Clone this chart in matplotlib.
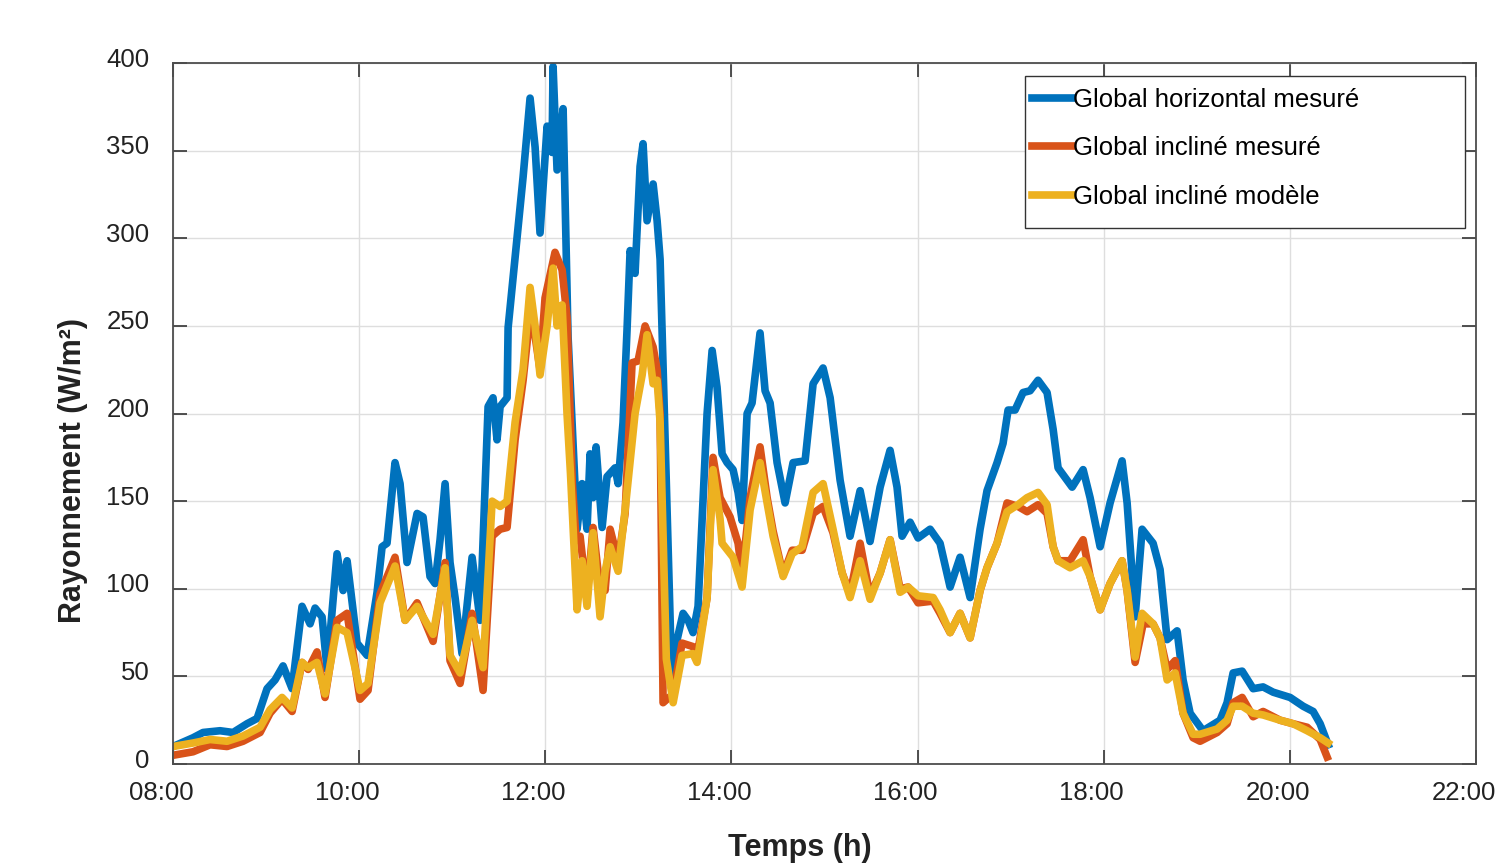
"""
Rayonnement global : horizontal mesuré, incliné mesuré et incliné modèle.
"""
import matplotlib
matplotlib.use('Agg')
import matplotlib.pyplot as plt
from matplotlib.patches import Rectangle
from matplotlib.transforms import ScaledTranslation

plt.rcParams['font.family'] = ['Liberation Sans', 'DejaVu Sans']

# Data (time in decimal hours, irradiance in W/m²)
t_horizontal = [8.0, 8.215, 8.322, 8.505, 8.645, 8.795, 8.903, 9.010, 9.096, 9.182,
                9.279, 9.386, 9.472, 9.526, 9.601, 9.655, 9.762, 9.827, 9.870, 9.977,
                10.085, 10.192, 10.246, 10.299, 10.385, 10.439, 10.514, 10.622, 10.686, 10.761,
                10.815, 10.869, 10.923, 10.976, 11.030, 11.105, 11.213, 11.299, 11.385, 11.438,
                11.481, 11.514, 11.589, 11.600, 11.675, 11.761, 11.836, 11.890, 11.943, 12.019,
                12.072, 12.083, 12.126, 12.191, 12.244, 12.341, 12.395, 12.448, 12.481, 12.513,
                12.545, 12.610, 12.663, 12.749, 12.782, 12.835, 12.878, 12.911, 12.964, 13.018,
                13.050, 13.093, 13.158, 13.201, 13.233, 13.362, 13.416, 13.480, 13.534, 13.587,
                13.641, 13.738, 13.792, 13.845, 13.899, 13.953, 14.017, 14.071, 14.114, 14.168,
                14.221, 14.307, 14.361, 14.415, 14.490, 14.576, 14.662, 14.791, 14.877, 14.984,
                15.060, 15.167, 15.274, 15.382, 15.489, 15.597, 15.704, 15.779, 15.833, 15.919,
                16.005, 16.134, 16.241, 16.349, 16.456, 16.564, 16.671, 16.746, 16.854, 16.918,
                16.972, 17.047, 17.133, 17.208, 17.294, 17.391, 17.456, 17.509, 17.660, 17.778,
                17.853, 17.961, 18.068, 18.197, 18.251, 18.337, 18.412, 18.530, 18.605, 18.681,
                18.788, 18.852, 18.928, 19.067, 19.250, 19.325, 19.390, 19.487, 19.605, 19.712,
                19.820, 20.002, 20.142, 20.250, 20.325, 20.411]
g_horizontal = [10, 15, 18, 19, 18, 23, 26, 43, 48, 56,
                43, 90, 80, 89, 84, 54, 120, 99, 116, 69,
                62, 98, 124, 126, 172, 160, 115, 143, 141, 107,
                103, 128, 160, 115, 95, 63, 118, 82, 204, 209,
                185, 204, 209, 249, 289, 335, 380, 352, 303, 364,
                349, 398, 339, 374, 244, 134, 160, 134, 177, 152,
                181, 135, 164, 169, 160, 195, 248, 293, 280, 341,
                354, 310, 331, 310, 288, 42, 71, 86, 82, 75,
                90, 200, 236, 215, 177, 172, 168, 155, 139, 200,
                206, 246, 213, 206, 172, 149, 172, 173, 217, 226,
                209, 162, 130, 156, 127, 158, 179, 158, 130, 138,
                129, 134, 126, 101, 118, 95, 134, 156, 172, 183,
                202, 202, 212, 213, 219, 212, 191, 169, 158, 168,
                152, 124, 149, 173, 149, 84, 134, 126, 111, 71,
                76, 48, 29, 19, 25, 35, 52, 53, 43, 44,
                41, 38, 33, 30, 23, 11]

t_incline = [8.0, 8.215, 8.398, 8.580, 8.752, 8.935, 9.042, 9.171, 9.279, 9.386,
             9.451, 9.547, 9.633, 9.762, 9.870, 10.009, 10.095, 10.224, 10.385, 10.493,
             10.622, 10.794, 10.923, 10.976, 11.084, 11.213, 11.331, 11.428, 11.514, 11.589,
             11.675, 11.761, 11.815, 11.868, 11.943, 11.997, 12.104, 12.180, 12.233, 12.290,
             12.330, 12.373, 12.448, 12.513, 12.588, 12.642, 12.696, 12.782, 12.857, 12.932,
             12.996, 13.072, 13.158, 13.201, 13.233, 13.265, 13.373, 13.469, 13.587, 13.630,
             13.738, 13.802, 13.877, 13.985, 14.071, 14.114, 14.200, 14.307, 14.383, 14.447,
             14.555, 14.652, 14.759, 14.877, 14.984, 15.091, 15.189, 15.274, 15.382, 15.489,
             15.597, 15.704, 15.812, 15.898, 16.005, 16.167, 16.241, 16.349, 16.456, 16.564,
             16.671, 16.746, 16.854, 16.961, 17.079, 17.176, 17.294, 17.391, 17.456, 17.509,
             17.638, 17.778, 17.853, 17.961, 18.068, 18.197, 18.251, 18.337, 18.423, 18.530,
             18.605, 18.681, 18.767, 18.852, 18.960, 19.035, 19.218, 19.325, 19.390, 19.487,
             19.605, 19.712, 19.895, 20.034, 20.185, 20.325, 20.400]
g_incline = [5, 7, 11, 10, 13, 18, 29, 37, 30, 58,
             54, 64, 38, 82, 86, 37, 42, 97, 118, 82,
             92, 70, 115, 59, 46, 86, 42, 130, 134, 135,
             185, 219, 246, 252, 225, 266, 292, 282, 255, 160,
             128, 130, 95, 135, 100, 99, 134, 116, 143, 229,
             230, 250, 238, 225, 200, 35, 40, 69, 67, 62,
             95, 175, 152, 141, 126, 108, 152, 181, 152, 133,
             108, 122, 122, 143, 147, 132, 109, 97, 126, 96,
             109, 128, 100, 101, 92, 93, 86, 75, 86, 72,
             99, 112, 126, 149, 147, 144, 148, 143, 124, 116,
             116, 128, 107, 88, 103, 116, 99, 58, 80, 80,
             72, 54, 59, 29, 15, 13, 18, 23, 35, 38,
             27, 30, 25, 23, 21, 14, 4]

t_modele = [8.0, 8.215, 8.398, 8.580, 8.752, 8.935, 9.042, 9.171, 9.279, 9.386,
            9.451, 9.547, 9.633, 9.762, 9.870, 10.009, 10.095, 10.224, 10.385, 10.493,
            10.622, 10.794, 10.923, 10.976, 11.084, 11.213, 11.331, 11.428, 11.514, 11.589,
            11.675, 11.761, 11.836, 11.890, 11.943, 12.019, 12.083, 12.126, 12.180, 12.233,
            12.270, 12.341, 12.395, 12.448, 12.513, 12.588, 12.642, 12.696, 12.782, 12.857,
            12.964, 13.040, 13.093, 13.158, 13.201, 13.233, 13.300, 13.373, 13.469, 13.587,
            13.630, 13.738, 13.802, 13.877, 13.899, 14.017, 14.114, 14.200, 14.307, 14.383,
            14.447, 14.555, 14.652, 14.759, 14.877, 14.984, 15.091, 15.189, 15.274, 15.382,
            15.489, 15.597, 15.704, 15.812, 15.898, 16.005, 16.167, 16.241, 16.349, 16.456,
            16.564, 16.671, 16.746, 16.854, 16.961, 17.079, 17.176, 17.294, 17.391, 17.456,
            17.509, 17.638, 17.778, 17.853, 17.961, 18.068, 18.197, 18.251, 18.337, 18.412,
            18.530, 18.605, 18.681, 18.767, 18.852, 18.960, 19.035, 19.218, 19.325, 19.390,
            19.487, 19.605, 19.712, 19.895, 20.034, 20.185, 20.325, 20.411]
g_modele = [10, 12, 14, 13, 16, 21, 31, 38, 32, 58,
            55, 58, 40, 78, 75, 42, 46, 92, 113, 82,
            90, 74, 112, 62, 52, 82, 55, 150, 147, 150,
            195, 225, 272, 250, 222, 250, 283, 250, 262, 200,
            166, 88, 116, 90, 132, 84, 110, 124, 110, 145,
            200, 222, 245, 217, 219, 195, 60, 35, 62, 63,
            58, 95, 168, 140, 126, 118, 101, 145, 172, 149,
            130, 107, 120, 124, 155, 160, 134, 109, 95, 116,
            94, 109, 128, 98, 101, 96, 95, 88, 75, 86,
            72, 99, 112, 126, 144, 148, 152, 155, 148, 124,
            116, 112, 116, 107, 88, 103, 116, 99, 61, 86,
            80, 72, 48, 52, 29, 17, 17, 20, 25, 33,
            33, 29, 28, 25, 23, 19, 15, 12]

series_labels = ['Global horizontal mesuré', 'Global incliné mesuré', 'Global incliné modèle']
x_ticks = [8, 10, 12, 14, 16, 18, 20, 22]
x_tick_labels = [f'{h:02d}:00' for h in x_ticks]
y_ticks = [0, 50, 100, 150, 200, 250, 300, 350, 400]

# MATLAB default colours
colors = ['#0072BD', '#D95319', '#EDB120']

fig = plt.figure(figsize=(14.97, 8.64), dpi=100)
ax = fig.add_axes([0.1156, 0.1157, 0.8704, 0.8113])

ax.plot(t_horizontal, g_horizontal, color=colors[0], lw=5.5, label=series_labels[0])
ax.plot(t_incline, g_incline, color=colors[1], lw=5.5, label=series_labels[1])
ax.plot(t_modele, g_modele, color=colors[2], lw=5.5, label=series_labels[2])

ax.set_xlim(8, 22)
ax.set_ylim(0, 400)
ax.set_xticks(x_ticks)
ax.set_xticklabels(x_tick_labels)
ax.set_yticks(y_ticks)

ax.grid(True, color='#dedede', lw=1)
ax.set_axisbelow(True)

for s in ax.spines.values():
    s.set_color('#4d4d4d')
    s.set_linewidth(1.3)

ax.tick_params(axis='both', direction='in', length=10, width=1.2, color='#333333',
               labelsize=18.5, labelcolor='#222222', top=True, right=True)
ax.tick_params(axis='x', pad=12)
ax.tick_params(axis='y', pad=17)

# shift tick labels slightly, like the original export
for lab in ax.get_xticklabels():
    lab.set_transform(lab.get_transform() + ScaledTranslation(-0.12, 0, fig.dpi_scale_trans))
for lab in ax.get_yticklabels():
    lab.set_transform(lab.get_transform() + ScaledTranslation(0, 0.06, fig.dpi_scale_trans))

ax.set_xlabel('Temps (h)', fontsize=22, fontweight='bold', color='#222222', va='center')
ax.xaxis.set_label_coords(0.481, -0.12)
ax.set_ylabel('Rayonnement (W/m²)', fontsize=22, fontweight='bold', color='#222222', va='center')
ax.yaxis.set_label_coords(-0.0767, 0.419)

# legend without its own frame, box drawn separately (MATLAB leaves space at the bottom)
leg = ax.legend(loc='upper left', bbox_to_anchor=(0.6545, 0.974), frameon=False,
                fontsize=18.5, handlelength=1.55, handletextpad=0.05,
                labelspacing=0.95, borderpad=0.25, borderaxespad=0)
ax.add_patch(Rectangle((0.654, 0.765), 0.3376, 0.216, transform=ax.transAxes,
                       facecolor='white', edgecolor='#333333', lw=1.0, zorder=4))
leg.set_zorder(5)

fig.savefig('out.png', dpi=100)
